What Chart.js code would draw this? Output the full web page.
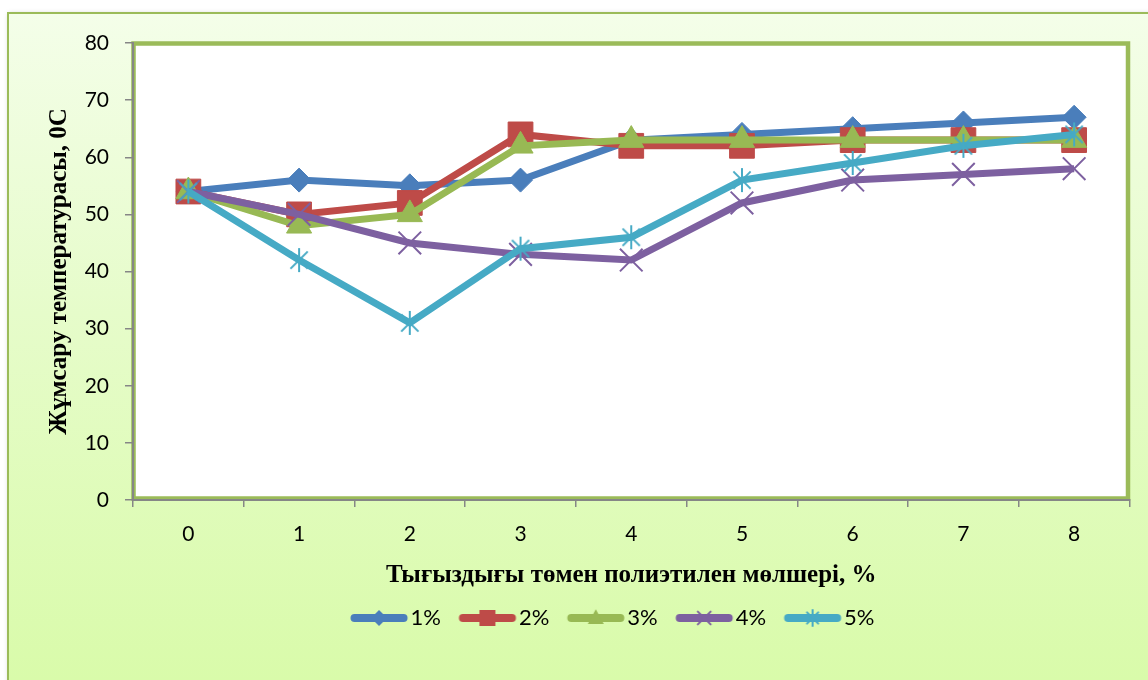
<!DOCTYPE html>
<html><head><meta charset="utf-8">
<script src="https://cdn.jsdelivr.net/npm/chart.js@4.4.1/dist/chart.umd.min.js"></script>
<style>html,body{margin:0;padding:0;background:#fff;overflow:hidden}#wrap{width:1148px;height:680px;position:relative}</style>
</head><body><div id="wrap"><canvas id="c" width="1148" height="680"></canvas></div>
<script>
const categories = ['0','1','2','3','4','5','6','7','8'];
const seriesNames = ['1%','2%','3%','4%','5%'];
const s1 = [54,56,55,56,63,64,65,66,67];
const s2 = [54,50,52,64,62,62,63,63,63];
const s3 = [54,48,50,62,63,63,63,63,63];
const s4 = [54,50,45,43,42,52,56,57,58];
const s5 = [54,42,31,44,46,56,59,62,64];
const yMin = 0, yMax = 80, yStep = 10;
const xTitle = 'Тығыздығы төмен полиэтилен мөлшері, %';
const yTitle = 'Жұмсару температурасы, 0С';

const colors = ['#4a7ebb','#be4b48','#98b954','#7d60a0','#46aac5'];
const seriesData = [s1,s2,s3,s4,s5];
const markerKinds = ['diamond','square','triangle','x','star'];

function starCanvas(size, color, lw){
  const c=document.createElement('canvas'); c.width=c.height=size;
  const x=c.getContext('2d'); x.strokeStyle=color; x.lineWidth=lw;
  const m=size/2, r=size/2-1, d=r*0.72;
  x.beginPath(); x.moveTo(m,m-r); x.lineTo(m,m+r);
  x.moveTo(m-d,m-d); x.lineTo(m+d,m+d); x.moveTo(m+d,m-d); x.lineTo(m-d,m+d); x.stroke();
  return c;
}
function drawMarker(x, kind, cx, cy, s, color){
  x.fillStyle=color; x.strokeStyle=color;
  x.beginPath();
  if(kind==='diamond'){x.moveTo(cx,cy-s);x.lineTo(cx+s,cy);x.lineTo(cx,cy+s);x.lineTo(cx-s,cy);x.closePath();x.fill();}
  else if(kind==='square'){x.rect(cx-s,cy-s,2*s,2*s);x.fill();}
  else if(kind==='triangle'){x.moveTo(cx,cy-s*1.1);x.lineTo(cx+s,cy+s*0.75);x.lineTo(cx-s,cy+s*0.75);x.closePath();x.fill();}
  else if(kind==='x'){x.lineWidth=2;x.moveTo(cx-s*0.8,cy-s*0.8);x.lineTo(cx+s*0.8,cy+s*0.8);x.moveTo(cx+s*0.8,cy-s*0.8);x.lineTo(cx-s*0.8,cy+s*0.8);x.stroke();}
  else {x.lineWidth=2;const d=s*0.7;x.moveTo(cx,cy-s);x.lineTo(cx,cy+s);x.moveTo(cx-d,cy-d);x.lineTo(cx+d,cy+d);x.moveTo(cx+d,cy-d);x.lineTo(cx-d,cy+d);x.stroke();}
}
function legendImg(i){
  const c=document.createElement('canvas'); c.width=100; c.height=24;
  const x=c.getContext('2d');
  const a=29.5, L=57, cy=12;
  x.strokeStyle=colors[i]; x.lineWidth=8; x.lineCap='round';
  x.beginPath(); x.moveTo(a+4,cy); x.lineTo(a+L-4,cy); x.stroke();
  drawMarker(x, markerKinds[i], a+L/2, cy, 8, colors[i]);
  return c;
}
const starImg = starCanvas(26, colors[4], 2);
const pointStyles = ['rectRot','rect','triangle','crossRot',starImg];
const pointRadii = [12,17.5,14.5,16,13];
const pointBW = [1,1,1,2,2];

const bgPlugin = {
  id:'bg',
  beforeDraw(chart){
    const ctx=chart.ctx, W=chart.width, H=chart.height, ca=chart.chartArea;
    ctx.save();
    ctx.fillStyle='#fff'; ctx.fillRect(0,0,W,H);
    ctx.shadowColor='rgba(0,0,0,0.28)'; ctx.shadowBlur=5; ctx.shadowOffsetX=1; ctx.shadowOffsetY=1;
    const g=ctx.createLinearGradient(0,13,0,680);
    g.addColorStop(0,'#f4fee9'); g.addColorStop(0.45,'#e6fcca'); g.addColorStop(1,'#d9fbaa');
    ctx.fillStyle=g; ctx.fillRect(8,13,1170,720);
    ctx.shadowColor='transparent';
    ctx.strokeStyle='#9bbb59'; ctx.lineWidth=2; ctx.strokeRect(8,13,1170,720);
    ctx.fillStyle='#fff'; ctx.fillRect(ca.left,ca.top,ca.right-ca.left,ca.bottom-ca.top);
    ctx.strokeStyle='#9bbb59'; ctx.lineWidth=4.5;
    ctx.strokeRect(ca.left+0.5,ca.top+0.5,ca.right-ca.left-2,ca.bottom-ca.top-2);
    ctx.restore();
  }
};
const legendShift = {
  id:'legendShift',
  afterLayout(chart){ if(chart.legend){ chart.legend.left += 24; chart.legend.right += 24; } }
};

new Chart(document.getElementById('c'), {
  type:'line',
  data:{
    labels:categories,
    datasets:seriesData.map((d,i)=>({
      label:seriesNames[i], data:d, borderColor:colors[i], backgroundColor:colors[i],
      borderWidth:7, tension:0, fill:false,
      pointStyle:pointStyles[i], pointRadius:pointRadii[i], pointHoverRadius:pointRadii[i],
      pointBackgroundColor:colors[i], pointBorderColor:colors[i], pointBorderWidth:pointBW[i],
      order:5-i
    }))
  },
  options:{
    responsive:false, animation:false, devicePixelRatio:1,
    layout:{padding:{left:38,right:17,top:43,bottom:41}},
    scales:{
      x:{
        type:'category', offset:true,
        grid:{offset:true, drawOnChartArea:false, drawTicks:true, tickLength:7, color:'#868686', lineWidth:1.5},
        border:{display:true, color:'#868686', width:2},
        ticks:{color:'#000', font:{family:'Lato', size:21}, padding:15, maxRotation:0},
        title:{display:true, text:xTitle, color:'#000', font:{family:'Liberation Serif', size:25, weight:'bold'}, padding:{top:6,bottom:6}},
        afterFit(s){ s.height = 97; }
      },
      y:{
        min:yMin, max:yMax,
        grid:{drawOnChartArea:false, drawTicks:true, tickLength:8, color:'#868686', lineWidth:1.5},
        border:{display:true, color:'#868686', width:2},
        ticks:{stepSize:yStep, color:'#000', font:{family:'Lato', size:21}, padding:16},
        title:{display:true, text:yTitle, color:'#000', font:{family:'Liberation Serif', size:25, weight:'bold'}, padding:{top:7,bottom:7}},
        afterFit(s){ s.width = 133-38; }
      }
    },
    plugins:{
      legend:{
        position:'bottom',
        labels:{
          usePointStyle:true, pointStyleWidth:57, padding:10, color:'#000',
          font:{family:'Lato', size:22},
          generateLabels(chart){
            return chart.data.datasets.map((ds,i)=>({text:ds.label, pointStyle:legendImg(i), fillStyle:colors[i], strokeStyle:colors[i], lineWidth:0, hidden:false, datasetIndex:i, fontColor:'#000'}));
          }
        }
      },
      tooltip:{enabled:false}
    }
  },
  plugins:[bgPlugin, legendShift]
});
</script></body></html>
